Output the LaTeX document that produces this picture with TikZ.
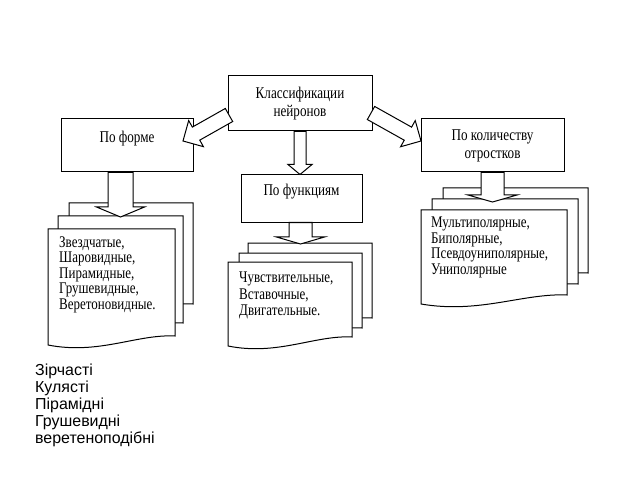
\documentclass[tikz,border=0pt]{standalone}
\usepackage{fontspec}
\setmainfont[FakeStretch=0.8]{Liberation Serif}
\newfontfamily\ukrfont{Liberation Sans}
\usetikzlibrary{calc}

\tikzset{
  box/.style={draw, fill=white, line width=1bp, align=center, inner sep=0pt,
    font=\fontsize{16.5}{18}\selectfont},
  page/.style={draw, fill=white, line width=1bp},
  pagetext/.style={anchor=north west, align=left, inner sep=0pt,
    font=\fontsize{16.3}{15.5}\selectfont},
  barrow/.style={draw, fill=white, line width=1bp, line join=miter},
  note/.style={anchor=north west, align=left, inner sep=0pt,
    font=\ukrfont\fontsize{16}{17}\selectfont}
}

% sheet with wavy bottom: x, y, width, height
\newcommand{\docpage}[4]{%
  \draw[page] (#1,#2) -- (#1+#3,#2) -- (#1+#3,#2+#4-9)
    .. controls (#1+0.7*#3,#2+#4-11) and (#1+0.4*#3,#2+#4+10) .. (#1,#2+#4) -- cycle;}

% block arrow: from, to, shaft half width, head half width, head length
\newcommand{\blockarrow}[5]{%
  \coordinate (neck) at ($(#2)!#5!(#1)$);
  \draw[barrow] ($(#1)!#3!90:(#2)$) -- ($(neck)!#3!90:(#2)$) -- ($(neck)!#4!90:(#2)$)
    -- (#2) -- ($(neck)!#4!-90:(#2)$) -- ($(neck)!#3!-90:(#2)$)
    -- ($(#1)!#3!-90:(#2)$) -- cycle;}

\begin{document}
\begin{tikzpicture}[x=1bp, y=-1bp]
	\useasboundingbox (0,0) rectangle (640,480);

	% Cajas
	\node[box, minimum width=144bp, minimum height=55bp] (klass) at (300,103.5) {Классификации\\нейронов};
	\node[box, minimum width=132bp, minimum height=53bp] (forme) at (127,145.5) {По форме\\\mbox{}};
	\node[box, minimum width=121bp, minimum height=47bp] (funk) at (301.5,198.5) {По функциям\\\mbox{}};
	\node[box, minimum width=143bp, minimum height=53bp] (otr) at (492.5,145.5) {По количеству\\отростков};

	% Hojas por forma
	\docpage{69}{203}{124}{110}
	\docpage{58}{216}{125}{116}
	\docpage{48}{229}{127}{116}
	\node[pagetext] (formetext) at (59,236.5) {Звездчатые,\\Шаровидные,\\Пирамидные,\\Грушевидные,\\Веретоновидные.};

	% Hojas por funcion
	\docpage{248}{243}{124}{84}
	\docpage{239}{253}{123}{84}
	\docpage{228}{262}{124}{84}
	\node[pagetext, font=\fontsize{16.3}{16.5}\selectfont] (funktext) at (239,272) {Чувствительные,\\Вставочные,\\Двигательные.};

	% Hojas por cantidad
	\docpage{443}{188}{145}{94}
	\docpage{432}{199}{146}{94}
	\docpage{421}{210}{146}{94}
	\node[pagetext] (otrtext) at (431,217) {Мультиполярные,\\Биполярные,\\Псевдоуниполярные,\\Униполярные};

	% Flechas
	\coordinate (klassleft) at (229,115);
	\coordinate (formein) at (183,141);
	\coordinate (klassright) at (371,113);
	\coordinate (otrin) at (421,141);
	\coordinate (funktop) at (klass.south |- funk.north);
	\coordinate (formetip) at (120.5,217);
	\coordinate (formefoot) at (forme.south -| formetip);
	\coordinate (funktip) at (300.5,244);
	\coordinate (funkfoot) at (funk.south -| funktip);
	\coordinate (otrtip) at (492.5,202);
	\coordinate (otrfoot) at (otr.south -| otrtip);

	\blockarrow{klassleft}{formein}{7.5bp}{15bp}{15bp}
	\blockarrow{klassright}{otrin}{7.5bp}{15bp}{15bp}
	\blockarrow{klass.south}{funktop}{6bp}{12bp}{10bp}
	\blockarrow{formefoot}{formetip}{12.5bp}{24bp}{10bp}
	\blockarrow{funkfoot}{funktip}{11.5bp}{24bp}{7bp}
	\blockarrow{otrfoot}{otrtip}{11.5bp}{24.5bp}{7bp}

	% Nota
	\node[note] (ukr) at (35,364) {Зірчасті\\Кулясті\\Пірамідні\\Грушевидні\\веретеноподібні};
\end{tikzpicture}
\end{document}
